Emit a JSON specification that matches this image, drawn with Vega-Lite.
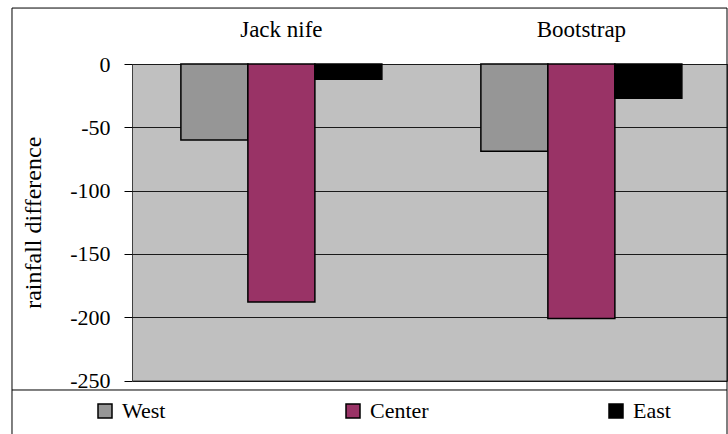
{
  "$schema": "https://vega.github.io/schema/vega-lite/v6.json",
  "width": 595,
  "height": 316.5,
  "autosize": {"type": "none"},
  "padding": {"left": 132, "top": 64, "right": 1, "bottom": 53.5},
  "background": "white",
  "config": {
    "view": {"stroke": "#404040", "strokeWidth": 1, "fill": "#C0C0C0"},
    "font": "'Liberation Serif', 'Times New Roman', Times, serif"
  },
  "datasets": {
    "rainfall": [
      {"method": "Jack nife", "region": "West", "diff": -60},
      {"method": "Jack nife", "region": "Center", "diff": -188},
      {"method": "Jack nife", "region": "East", "diff": -12},
      {"method": "Bootstrap", "region": "West", "diff": -69},
      {"method": "Bootstrap", "region": "Center", "diff": -201},
      {"method": "Bootstrap", "region": "East", "diff": -27}
    ]
  },
  "resolve": {"scale": {"x": "independent"}, "axis": {"x": "independent"}},
  "layer": [
    {
      "data": {"name": "rainfall"},
      "mark": {"type": "bar", "stroke": "black", "strokeWidth": 1.5},
      "encoding": {
        "x": {
          "field": "method", "type": "nominal", "sort": ["Jack nife", "Bootstrap"],
          "scale": {"paddingInner": 0.33, "paddingOuter": 0.1567, "align": 0.52},
          "axis": {
            "orient": "top", "offset": 0, "title": null, "domain": false, "ticks": false,
            "labelPadding": 28, "labelBaseline": "alphabetic", "labelAngle": 0,
            "labelFont": "'Liberation Serif', 'Times New Roman', Times, serif",
            "labelFontSize": 23, "labelColor": "black"
          }
        },
        "xOffset": {
          "field": "region", "type": "nominal", "sort": ["West", "Center", "East"],
          "scale": {"paddingInner": 0, "paddingOuter": 0}
        },
        "y": {
          "field": "diff", "type": "quantitative",
          "scale": {"domain": [-250, 0], "nice": false, "zero": false},
          "axis": {
            "orient": "left", "values": [0, -50, -100, -150, -200, -250],
            "domain": false, "grid": true, "gridColor": "#1a1a1a", "gridWidth": 1, "gridOpacity": 1,
            "tickSize": 8, "tickColor": "black", "tickWidth": 1,
            "labelPadding": 14, "labelExpr": "'' + datum.value",
            "labelFont": "'Liberation Serif', 'Times New Roman', Times, serif",
            "labelFontSize": 22, "labelColor": "black",
            "labelFlush": false, "labelOverlap": false,
            "title": "rainfall difference",
            "titleFont": "'Liberation Serif', 'Times New Roman', Times, serif",
            "titleFontSize": 24, "titleFontWeight": "normal", "titleColor": "black", "titlePadding": 24
          }
        },
        "y2": {"datum": 0},
        "color": {
          "field": "region", "type": "nominal",
          "scale": {"domain": ["West", "Center", "East"], "range": ["#969696", "#993366", "#000000"]},
          "legend": {
            "orient": "none", "legendX": -38, "legendY": 336, "direction": "horizontal", "columns": 3,
            "title": null, "symbolType": "square", "symbolSize": 196,
            "symbolStrokeColor": "black", "symbolStrokeWidth": 1.5, "labelOffset": 6,
            "labelFont": "'Liberation Serif', 'Times New Roman', Times, serif",
            "labelFontSize": 22, "labelColor": "black",
            "columnPadding": 176, "labelLimit": 200
          }
        }
      }
    },
    {
      "data": {"values": [{}]},
      "mark": {"type": "rule", "color": "black", "strokeWidth": 1},
      "encoding": {
        "x": {"datum": -0.2017, "type": "quantitative", "scale": {"domain": [0, 1], "nice": false, "zero": false}, "axis": null},
        "x2": {"datum": 1},
        "y": {"datum": -257.5, "type": "quantitative", "scale": {"domain": [-250, 0], "nice": false, "zero": false}}
      }
    },
    {
      "data": {"values": [{}]},
      "mark": {"type": "rect", "fill": null, "fillOpacity": 0, "stroke": "black", "strokeWidth": 1},
      "encoding": {
        "x": {"datum": -0.2017, "type": "quantitative", "scale": {"domain": [0, 1], "nice": false, "zero": false}, "axis": null},
        "x2": {"datum": 1},
        "y": {"datum": 44.2, "type": "quantitative", "scale": {"domain": [-250, 0], "nice": false, "zero": false}},
        "y2": {"datum": -297}
      }
    }
  ]
}
